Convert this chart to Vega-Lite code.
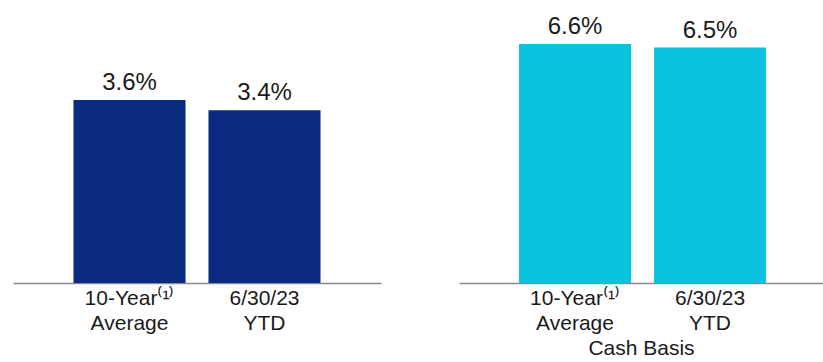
{
  "$schema": "https://vega.github.io/schema/vega-lite/v6.json",
  "padding": {"left": 13, "top": 10, "right": 0, "bottom": 0},
  "spacing": 78,
  "background": "white",
  "config": {
    "view": {"stroke": null},
    "font": "Liberation Sans",
    "axis": {
      "domainColor": "#8c8c8c",
      "domainWidth": 1.5,
      "ticks": false,
      "tickSize": 0,
      "labelFont": "Liberation Sans",
      "labelFontSize": 21,
      "labelColor": "#1a1a1a",
      "labelPadding": 4,
      "labelLineHeight": 25,
      "labelAngle": 0,
      "grid": false,
      "titleFont": "Liberation Sans",
      "titleFontSize": 21,
      "titleFontWeight": "normal",
      "titleColor": "#1a1a1a"
    }
  },
  "hconcat": [
    {
      "width": 368,
      "height": 273,
      "data": {
        "values": [
          {"period": "10-Year⁽¹⁾|Average", "value": 3.6, "label": "3.6%"},
          {"period": "6/30/23|YTD", "value": 3.4, "label": "3.4%"}
        ]
      },
      "encoding": {
        "x": {
          "field": "period",
          "type": "nominal",
          "sort": null,
          "scale": {"paddingInner": 0.17, "paddingOuter": 0.448},
          "axis": {"title": null, "labelExpr": "split(datum.label, '|')"}
        },
        "y": {
          "field": "value",
          "type": "quantitative",
          "scale": {"domain": [0, 5.371], "nice": false, "zero": true},
          "axis": null
        }
      },
      "layer": [
        {"mark": {"type": "bar", "color": "#0b2b80"}},
        {
          "mark": {"type": "text", "baseline": "bottom", "dy": -5, "fontSize": 24, "color": "#1a1a1a"},
          "encoding": {"text": {"field": "label"}}
        }
      ]
    },
    {
      "width": 364,
      "height": 273,
      "data": {
        "values": [
          {"period": "10-Year⁽¹⁾|Average", "value": 6.6, "label": "6.6%"},
          {"period": "6/30/23|YTD", "value": 6.5, "label": "6.5%"}
        ]
      },
      "encoding": {
        "x": {
          "field": "period",
          "type": "nominal",
          "sort": null,
          "scale": {"paddingInner": 0.17, "paddingOuter": 0.433, "align": 0.513},
          "axis": {"title": "Cash Basis", "titlePadding": 4, "labelExpr": "split(datum.label, '|')"}
        },
        "y": {
          "field": "value",
          "type": "quantitative",
          "scale": {"domain": [0, 7.539], "nice": false, "zero": true},
          "axis": null
        }
      },
      "layer": [
        {"mark": {"type": "bar", "color": "#0bc2df"}},
        {
          "mark": {"type": "text", "baseline": "bottom", "dy": -5, "fontSize": 24, "color": "#1a1a1a"},
          "encoding": {"text": {"field": "label"}}
        }
      ]
    }
  ]
}
